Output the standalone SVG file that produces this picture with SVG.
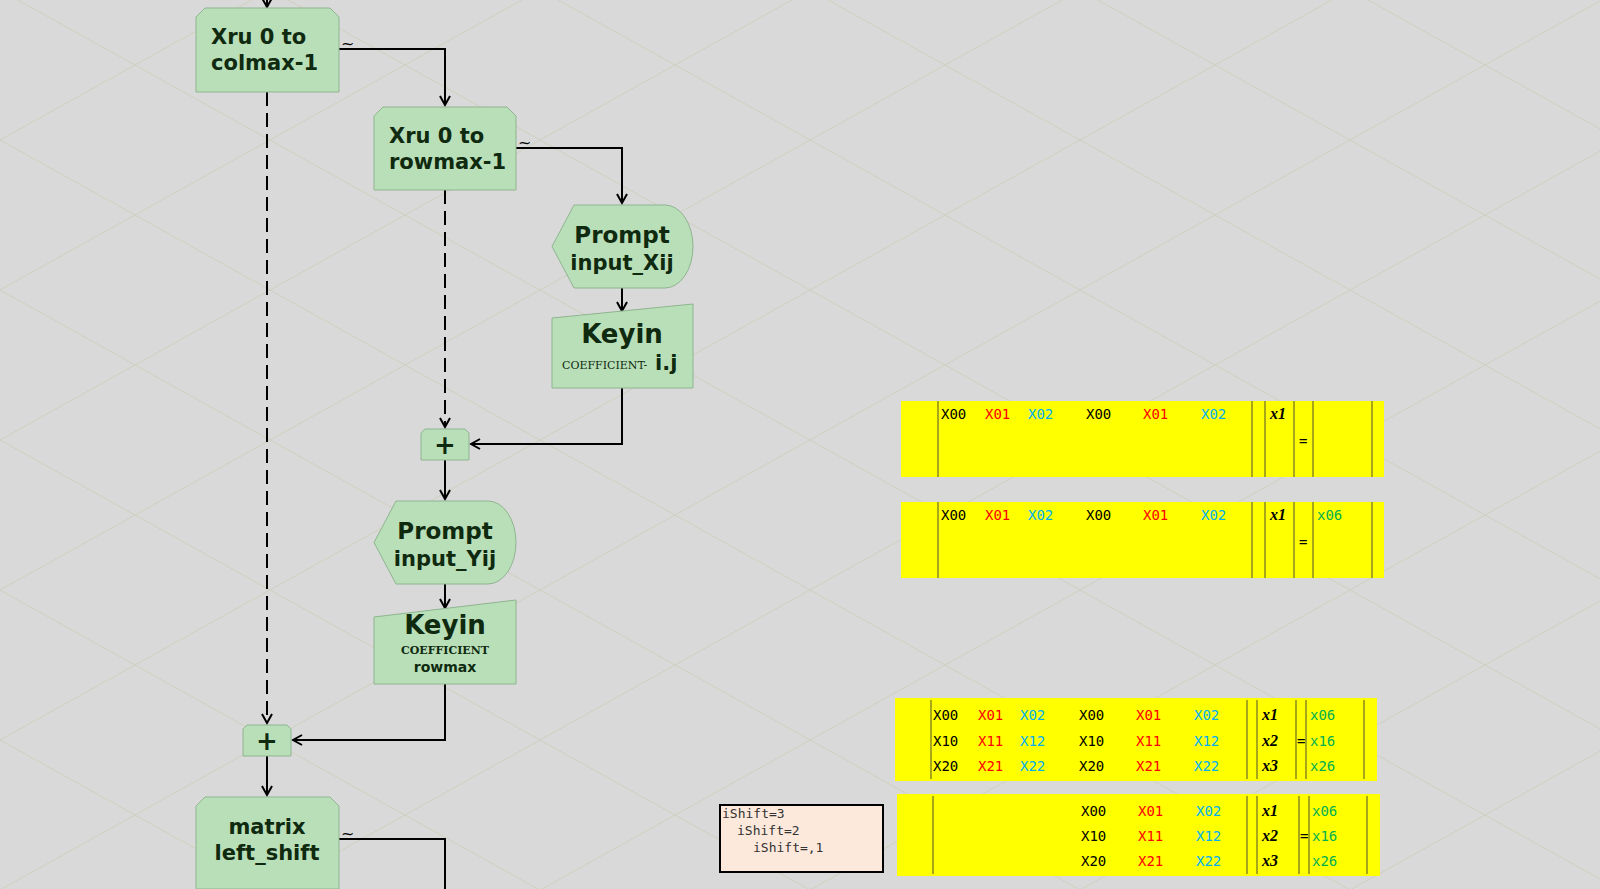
<svg xmlns="http://www.w3.org/2000/svg" width="1600" height="889" viewBox="0 0 1600 889">
<defs>
<pattern id="grid" width="540" height="300" patternUnits="userSpaceOnUse" x="0" y="-10">
<path d="M0,0 L540,300 M540,0 L0,300 M0,150 L270,0 M270,300 L540,150 M0,150 L270,300 M270,0 L540,150" stroke="#cfcfbf" stroke-width="1" fill="none"/>
</pattern>
<marker id="ah" markerWidth="12" markerHeight="12" refX="10" refY="6" orient="auto" markerUnits="userSpaceOnUse">
<path d="M1,1 L10,6 L1,11" fill="none" stroke="#000" stroke-width="2"/>
</marker>
<style>
.n{fill:#b9dfb9;stroke:#8fb48f;stroke-width:1}
.t{font-family:"DejaVu Sans",sans-serif;font-weight:bold;fill:#0f2a0f}
.s{font-family:"DejaVu Serif",serif;font-size:11px;fill:#0f2a0f}
.c{fill:none;stroke:#000;stroke-width:2}
.d{stroke-dasharray:14,7}
.til{font-family:"DejaVu Sans",sans-serif;font-size:16px;fill:#000}
.y{fill:#ffff00}
.v{stroke:#8a8a20;stroke-width:1.5}
.m{font-family:"DejaVu Sans Mono",monospace;font-size:14px}
.k{fill:#000}.r{fill:#ff0000}.b{fill:#00b0f0}.g{fill:#00b050}
.x{font-family:"Liberation Serif",serif;font-style:italic;font-weight:bold;font-size:16px}
</style>
</defs>
<rect width="1600" height="889" fill="#d9d9d9"/>
<rect width="1600" height="889" fill="url(#grid)"/>

<g id="connectors">
<path class="c" d="M267,0 V7" marker-end="url(#ah)"/>
<path class="c" d="M339,49 H445 V105" marker-end="url(#ah)"/>
<path class="c" d="M516,148 H622 V203" marker-end="url(#ah)"/>
<path class="c" d="M622,288 V311" marker-end="url(#ah)"/>
<path class="c" d="M622,388 V444 H471" marker-end="url(#ah)"/>
<path class="c d" d="M445,190 V427" marker-end="url(#ah)"/>
<path class="c" d="M445,460 V499" marker-end="url(#ah)"/>
<path class="c" d="M445,584 V608" marker-end="url(#ah)"/>
<path class="c" d="M445,684 V740 H293" marker-end="url(#ah)"/>
<path class="c d" d="M267,92 V723" marker-end="url(#ah)"/>
<path class="c" d="M267,756 V795" marker-end="url(#ah)"/>
<path class="c" d="M339,839 H445 V889"/>
<text class="til" x="341" y="49">~</text>
<text class="til" x="518" y="148">~</text>
<text class="til" x="341" y="839">~</text>
</g>

<g id="loop1">
<path class="n" d="M205,8 H330 L339,17 V92 H196 V17 Z"/>
<text class="t" x="211" y="44" style="font-size:21px">Xru 0 to</text>
<text class="t" x="211" y="70" style="font-size:21px">colmax-1</text>
</g>
<g id="loop2">
<path class="n" d="M383,107 H507 L516,116 V190 H374 V116 Z"/>
<text class="t" x="389" y="143" style="font-size:21px">Xru 0 to</text>
<text class="t" x="389" y="169" style="font-size:21px">rowmax-1</text>
</g>
<g id="promptX">
<path class="n" d="M574,205 H665 A28,41.5 0 0 1 665,288 H574 L552,246.5 Z"/>
<text class="t" x="622" y="243" text-anchor="middle" style="font-size:23px">Prompt</text>
<text class="t" x="622" y="270" text-anchor="middle" style="font-size:21px">input_Xij</text>
</g>
<g id="keyin1">
<path class="n" d="M552,318 L693,304 V388 H552 Z"/>
<text class="t" x="622" y="343" text-anchor="middle" style="font-size:26px">Keyin</text>
<text class="s" x="562" y="369">COEFFICIENT-</text>
<text class="t" x="655" y="370" style="font-size:21px">i.j</text>
</g>
<g id="plus1">
<path class="n" d="M425,429 H465 L469,433 V460 H421 V433 Z"/>
<text class="t" x="445" y="454" text-anchor="middle" style="font-size:26px">+</text>
</g>
<g id="promptY">
<path class="n" d="M396,501 H488 A28,41.5 0 0 1 488,584 H396 L374,542.5 Z"/>
<text class="t" x="445" y="539" text-anchor="middle" style="font-size:23px">Prompt</text>
<text class="t" x="445" y="566" text-anchor="middle" style="font-size:21px">input_Yij</text>
</g>
<g id="keyin2">
<path class="n" d="M374,617 L516,600 V684 H374 Z"/>
<text class="t" x="445" y="634" text-anchor="middle" style="font-size:26px">Keyin</text>
<text class="s" x="445" y="654" text-anchor="middle" font-weight="bold">COEFFICIENT</text>
<text class="t" x="445" y="672" text-anchor="middle" style="font-size:14px">rowmax</text>
</g>
<g id="plus2">
<path class="n" d="M247,725 H287 L291,729 V756 H243 V729 Z"/>
<text class="t" x="267" y="750" text-anchor="middle" style="font-size:26px">+</text>
</g>
<g id="shift">
<path class="n" d="M205,797 H330 L339,806 V889 H196 V806 Z"/>
<text class="t" x="267" y="834" text-anchor="middle" style="font-size:21px">matrix</text>
<text class="t" x="267" y="860" text-anchor="middle" style="font-size:21px">left_shift</text>
</g>

<g id="table1">
<rect class="y" x="901" y="401" width="483" height="76"/>
<path class="v" d="M938,401V477M1252,401V477M1265,401V477M1294,401V477M1313,401V477M1372,401V477"/>
<g class="m"><text class="k" x="941" y="419">X00</text><text class="r" x="985" y="419">X01</text><text class="b" x="1028" y="419">X02</text><text class="k" x="1086" y="419">X00</text><text class="r" x="1143" y="419">X01</text><text class="b" x="1201" y="419">X02</text><text class="k" x="1299" y="446">=</text></g>
<text class="x" x="1270" y="419">x1</text>
</g>
<g id="table2">
<rect class="y" x="901" y="502" width="483" height="76"/>
<path class="v" d="M938,502V578M1252,502V578M1265,502V578M1294,502V578M1313,502V578M1372,502V578"/>
<g class="m"><text class="k" x="941" y="520">X00</text><text class="r" x="985" y="520">X01</text><text class="b" x="1028" y="520">X02</text><text class="k" x="1086" y="520">X00</text><text class="r" x="1143" y="520">X01</text><text class="b" x="1201" y="520">X02</text><text class="k" x="1299" y="547">=</text><text class="g" x="1317" y="520">x06</text></g>
<text class="x" x="1270" y="520">x1</text>
</g>
<g id="table3">
<rect class="y" x="895" y="698" width="482" height="83"/>
<path class="v" d="M931,700V779M1247,700V779M1257,700V779M1296,700V779M1306,700V779M1364,700V779"/>
<g class="m">
<text class="k" x="933" y="720">X00</text><text class="r" x="978" y="720">X01</text><text class="b" x="1020" y="720">X02</text><text class="k" x="1079" y="720">X00</text><text class="r" x="1136" y="720">X01</text><text class="b" x="1194" y="720">X02</text><text class="g" x="1310" y="720">x06</text>
<text class="k" x="933" y="746">X10</text><text class="r" x="978" y="746">X11</text><text class="b" x="1020" y="746">X12</text><text class="k" x="1079" y="746">X10</text><text class="r" x="1136" y="746">X11</text><text class="b" x="1194" y="746">X12</text><text class="g" x="1310" y="746">x16</text><text class="k" x="1297" y="746">=</text>
<text class="k" x="933" y="771">X20</text><text class="r" x="978" y="771">X21</text><text class="b" x="1020" y="771">X22</text><text class="k" x="1079" y="771">X20</text><text class="r" x="1136" y="771">X21</text><text class="b" x="1194" y="771">X22</text><text class="g" x="1310" y="771">x26</text>
</g>
<text class="x" x="1262" y="720">x1</text><text class="x" x="1262" y="746">x2</text><text class="x" x="1262" y="771">x3</text>
</g>
<g id="table4">
<rect class="y" x="897" y="794" width="483" height="82"/>
<path class="v" d="M933,796V874M1247,796V874M1257,796V874M1299,796V874M1309,796V874M1367,796V874"/>
<g class="m">
<text class="k" x="1081" y="816">X00</text><text class="r" x="1138" y="816">X01</text><text class="b" x="1196" y="816">X02</text><text class="g" x="1312" y="816">x06</text>
<text class="k" x="1081" y="841">X10</text><text class="r" x="1138" y="841">X11</text><text class="b" x="1196" y="841">X12</text><text class="g" x="1312" y="841">x16</text><text class="k" x="1300" y="841">=</text>
<text class="k" x="1081" y="866">X20</text><text class="r" x="1138" y="866">X21</text><text class="b" x="1196" y="866">X22</text><text class="g" x="1312" y="866">x26</text>
</g>
<text class="x" x="1262" y="816">x1</text><text class="x" x="1262" y="841">x2</text><text class="x" x="1262" y="866">x3</text>
</g>
<g id="note">
<rect x="720" y="805" width="163" height="67" fill="#fde9dc" stroke="#000" stroke-width="2"/>
<g font-family="DejaVu Sans Mono,monospace" font-size="13" fill="#333">
<text x="722" y="818">iShift=3</text>
<text x="737" y="835">iShift=2</text>
<text x="753" y="852">iShift=,1</text>
</g>
</g>
</svg>
